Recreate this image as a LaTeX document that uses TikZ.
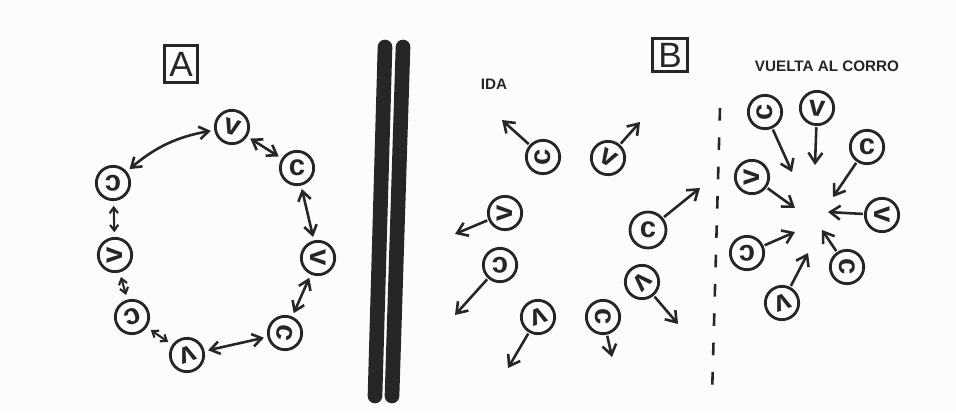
\documentclass[tikz,border=0pt]{standalone}
\usepackage{fontspec}
\setmainfont{Liberation Sans}
\usetikzlibrary{arrows.meta}
\definecolor{ink}{RGB}{38,38,38}
\definecolor{paper}{RGB}{252,252,250}

\begin{document}
\begin{tikzpicture}[
  x=0.03cm, y=-0.03cm,
  kid/.style={circle, draw=ink, line width=2.4pt, minimum size=1.0cm, inner sep=0pt, text=ink, font=\bfseries\fontsize{25}{25}\selectfont},
  tag/.style={draw=ink, line width=2.4pt, minimum width=0.98cm, minimum height=1.1cm, inner sep=0pt, text=ink, font=\fontsize{30}{30}\selectfont},
  hand/.style={text=ink, font=\bfseries\fontsize{13}{13}\selectfont},
  dbl/.style={{Straight Barb[length=2.8mm,width=3.8mm]}-{Straight Barb[length=2.8mm,width=3.8mm]}, draw=ink, line width=2.2pt, shorten <=3pt, shorten >=3pt},
  sdbl/.style={dbl, {Straight Barb[length=1.7mm,width=2.5mm]}-{Straight Barb[length=1.7mm,width=2.5mm]}, line width=1.8pt, shorten <=4pt, shorten >=4pt},
  arr/.style={-{Straight Barb[length=3mm,width=4.2mm]}, draw=ink, line width=2.2pt, shorten <=1pt},
  bar/.style={draw=ink, line width=0.44cm, line cap=round},
  cut/.style={draw=ink, line width=2.2pt, dash pattern=on 0.38cm off 0.5cm}
]

% paper, fixes the bounding box
\fill[paper] (0,0) rectangle (956,412);

% Panel A: the round, every kid tied to his neighbours
\node[tag] (tagA) at (181,64) {A};

\node[kid, rotate=-15] (a1) at (232,127) {v};
\node[kid]             (a2) at (297,168) {c};
\node[kid, rotate=-90] (a3) at (318,258) {v};
\node[kid, rotate=-100](a4) at (285,333) {c};
\node[kid, rotate=200] (a5) at (187,355) {v};
\node[kid, rotate=200] (a6) at (132,317) {c};
\node[kid, rotate=90]  (a7) at (115,255) {v};
\node[kid, rotate=180] (a8) at (113,183) {c};

\draw[dbl] (a8) to[bend left=15] (a1);
\draw[dbl] (a1) -- (a2);
\draw[dbl] (a2) -- (a3);
\draw[dbl] (a3) -- (a4);
\draw[dbl] (a4) -- (a5);
\draw[sdbl] (a5) -- (a6);
\draw[sdbl] (a6) -- (a7);
\draw[sdbl] (a7) -- (a8);

% divider
\draw[bar] (385,47) -- (375,396);
\draw[bar] (403,47) -- (392,396);

% Panel B, left half: going out
\node[tag, minimum width=1.05cm, minimum height=1.0cm] (tagB) at (670,55) {B};
\node[hand] (ida) at (494,84) {IDA};

\node[kid, rotate=90]   (b1) at (543,157) {c};
\node[kid, rotate=-30]  (b2) at (608,158) {v};
\node[kid, minimum size=1.08cm] (b3) at (648,230) {c};
\node[kid, rotate=-135] (b4) at (642,282) {v};
\node[kid, rotate=-90]  (b5) at (603,317) {c};
\node[kid, rotate=200]  (b6) at (538,317) {v};
\node[kid, rotate=180]  (b7) at (500,265) {c};
\node[kid, rotate=90]   (b8) at (505,213) {v};

\coordinate (e1) at (502,120);
\coordinate (e2) at (640,122);
\coordinate (e3) at (700,188);
\coordinate (e4) at (678,324);
\coordinate (e5) at (612,357);
\coordinate (e6) at (508,368);
\coordinate (e7) at (455,315);
\coordinate (e8) at (455,234);

\draw[arr] (b1) -- (e1);
\draw[arr] (b2) -- (e2);
\draw[arr] (b3) -- (e3);
\draw[arr] (b4) -- (e4);
\draw[arr] (b5) -- (e5);
\draw[arr] (b6) -- (e6);
\draw[arr] (b7) -- (e7);
\draw[arr] (b8) -- (e8);

\coordinate (cutTop) at (720,108);
\coordinate (cutBot) at (712,396);
\draw[cut] (cutTop) -- (cutBot);

% Panel B, right half: coming back to the round
\node[hand] (vuelta) at (827,66) {VUELTA AL CORRO};

\node[kid, rotate=90]  (c1) at (765,112) {c};
\node[kid, rotate=-5]  (c2) at (817,108) {v};
\node[kid]             (c3) at (867,147) {c};
\node[kid, rotate=-90] (c4) at (882,215) {v};
\node[kid, rotate=-90] (c5) at (847,267) {c};
\node[kid, rotate=200] (c6) at (782,303) {v};
\node[kid, rotate=180] (c7) at (747,253) {c};
\node[kid, rotate=90]  (c8) at (752,177) {v};

\coordinate (f1) at (792,172);
\coordinate (f2) at (815,165);
\coordinate (f3) at (833,197);
\coordinate (f4) at (828,212);
\coordinate (f5) at (822,230);
\coordinate (f6) at (808,253);
\coordinate (f7) at (795,232);
\coordinate (f8) at (795,208);

\draw[arr] (c1) -- (f1);
\draw[arr] (c2) -- (f2);
\draw[arr] (c3) -- (f3);
\draw[arr] (c4) -- (f4);
\draw[arr] (c5) -- (f5);
\draw[arr] (c6) -- (f6);
\draw[arr] (c7) -- (f7);
\draw[arr] (c8) -- (f8);

\end{tikzpicture}
\end{document}
